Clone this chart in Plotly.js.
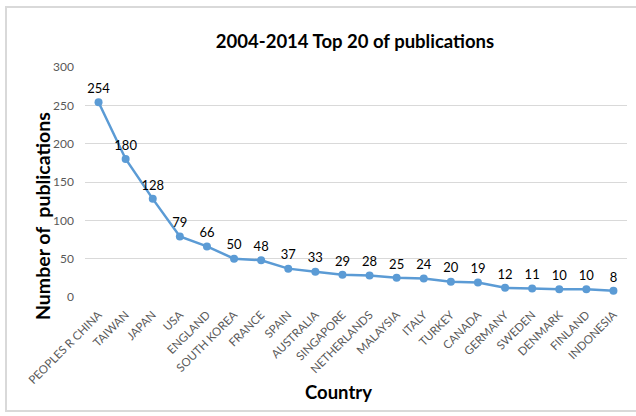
<!DOCTYPE html>
<html><head><meta charset="utf-8">
<script src="https://cdn.plot.ly/plotly-3.0.1.min.js"></script>
<style>html,body{margin:0;padding:0;background:#fff}#wrap{position:relative;width:636px;height:416px}#chart{position:absolute;left:0;top:0;width:636px;height:416px}#frame{position:absolute;left:5px;top:6px;width:640px;height:406px;border:2px solid #d9d9d9;pointer-events:none;box-sizing:border-box}</style>
</head><body>
<div id="wrap"><div id="chart"></div><div id="frame"></div></div>
<script>
var countries = ["PEOPLES R CHINA","TAIWAN","JAPAN","USA","ENGLAND","SOUTH KOREA","FRANCE","SPAIN","AUSTRALIA","SINGAPORE","NETHERLANDS","MALAYSIA","ITALY","TURKEY","CANADA","GERMANY","SWEDEN","DENMARK","FINLAND","INDONESIA"];
var publications = [254,180,128,79,66,50,48,37,33,29,28,25,24,20,19,12,11,10,10,8];
var yTicks = [0,50,100,150,200,250,300];

var font = "Lato, Liberation Sans, Arial, sans-serif";
var trace = {
  x: countries, y: publications, type: "scatter", mode: "lines+markers+text",
  text: publications.map(String), textposition: "top center",
  textfont: {family: font, size: 13, color: "#000"},
  line: {color: "#5B9BD5", width: 2.5}, marker: {color: "#5B9BD5", size: 8},
  cliponaxis: false, hoverinfo: "skip"
};
var layout = {
  width: 636, height: 416,
  margin: {l: 85, r: 9, t: 67, b: 119},
  paper_bgcolor: "#fff", plot_bgcolor: "#fff",
  showlegend: false,
  title: {text: "<b>2004-2014 Top 20 of publications</b>", x: 355 / 636, xanchor: "center", y: 1 - 42 / 416, yanchor: "middle", yref: "container",
          font: {family: font, size: 18.5, color: "#000"}},
  xaxis: {type: "category", tickangle: -45, showgrid: false, showline: false, zeroline: false, ticks: "",
          ticklabelstandoff: 8,
          tickfont: {family: font, size: 11.5, color: "#595959"},
          range: [-0.5, 19.5]},
  yaxis: {range: [0, 300], tickvals: yTicks, showgrid: true, gridcolor: "#d9d9d9", gridwidth: 1,
          zeroline: false, showline: false, ticks: "", ticklabelstandoff: 10,
          tickfont: {family: font, size: 12, color: "#595959"}},
  annotations: [
    {text: "<b>Country</b>", xref: "paper", yref: "paper", x: (338 - 85) / 542, y: -(392 - 297) / 230,
     xanchor: "center", yanchor: "middle", showarrow: false, font: {family: font, size: 18.5, color: "#000"}},
    {text: "<b>Number of  publications</b>", xref: "paper", yref: "paper", x: (42 - 85) / 542, y: (297 - 216) / 230,
     xanchor: "center", yanchor: "middle", textangle: -90, showarrow: false, font: {family: font, size: 19.5, color: "#000"}}
  ]
};
Plotly.newPlot("chart", [trace], layout, {displayModeBar: false, staticPlot: true});
</script>
</body></html>
